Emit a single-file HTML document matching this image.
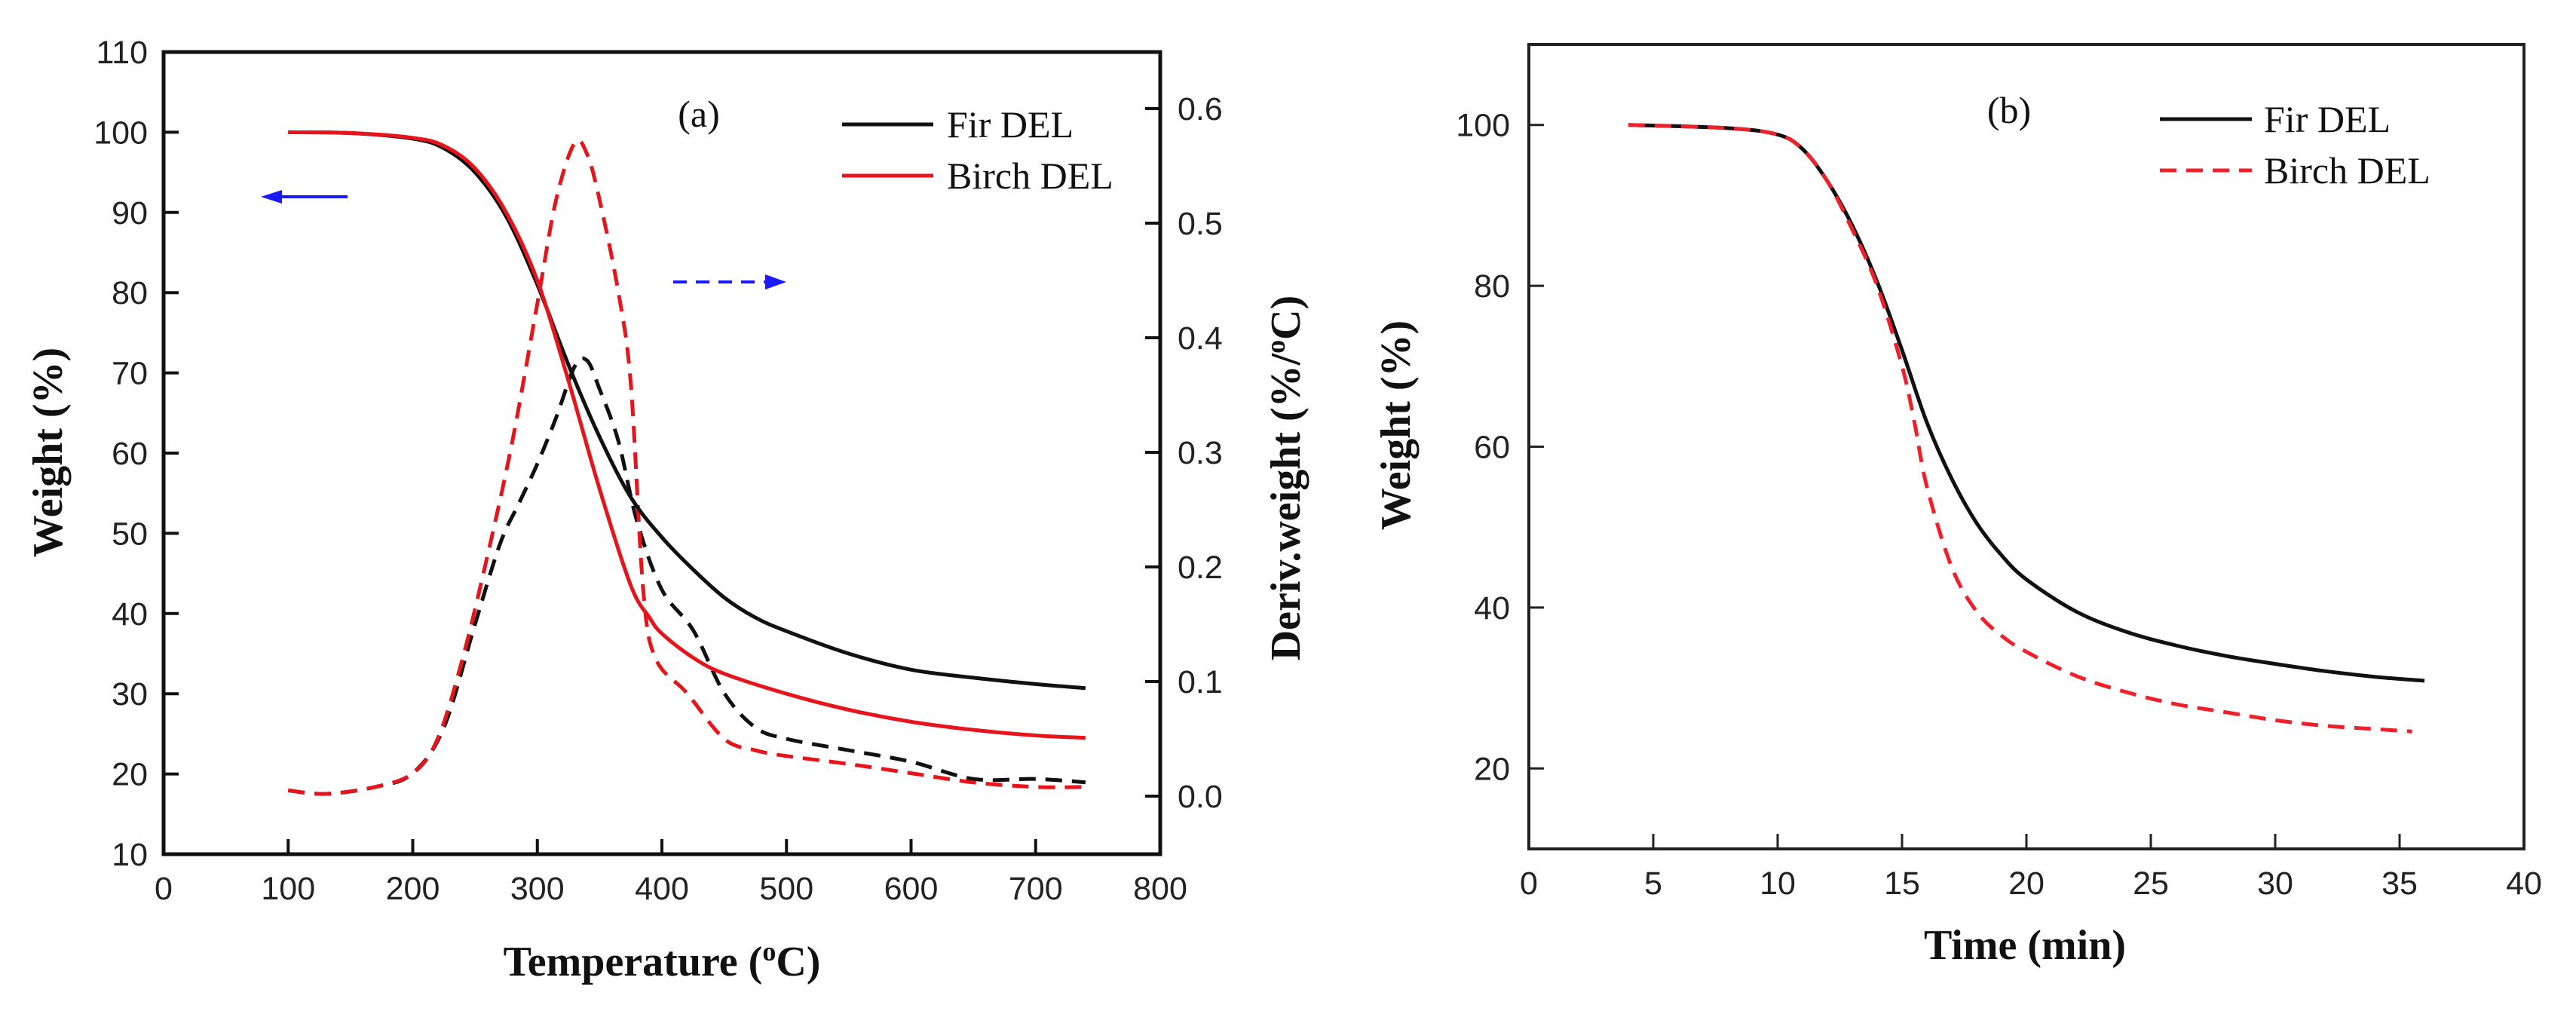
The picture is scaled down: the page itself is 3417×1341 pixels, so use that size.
<!DOCTYPE html>
<html><head><meta charset="utf-8"><style>
html,body{margin:0;padding:0;background:#fff;}
svg{display:block;}
.tk{font-family:"Liberation Sans",Arial,sans-serif;font-size:43px;fill:#222;}
.ti{font-family:"Liberation Serif","Times New Roman",serif;font-size:56px;font-weight:bold;fill:#111;}
.lg{font-family:"Liberation Serif","Times New Roman",serif;font-size:50px;fill:#111;}
</style></head><body>
<svg id="c" width="3417" height="1341" viewBox="0 0 3417 1341" xmlns="http://www.w3.org/2000/svg">
<rect width="3417" height="1341" fill="#fff"/>
<g id="pa"></g>
<g id="pb"></g>
</svg>
<script>
// Panel (a) data
const tempFirT=[100,150,200,225,250,275,300,325,350,375,400,425,450,475,500,550,600,650,700,740];
const weightFirA=[100,99.9,99.2,98,95,89.5,81,71,62,54.5,49.5,45.5,42,39.5,37.8,35,33,32,31.2,30.7];
const tempBirchT=[100,150,200,225,250,275,300,325,350,375,390,400,425,450,500,550,600,650,700,740];
const weightBirchA=[100,99.9,99.3,98.3,95.5,90,81.5,69,55.5,43.5,39.5,37.5,34.5,32.5,30,28,26.5,25.5,24.8,24.5];
const dtgFirT=[100,130,170,200,225,250,270,285,300,315,330,340,350,365,380,400,425,450,475,500,550,600,650,700,740];
const dtgFir=[0.005,0.002,0.008,0.02,0.06,0.15,0.22,0.255,0.29,0.33,0.375,0.38,0.355,0.31,0.24,0.18,0.145,0.09,0.06,0.05,0.04,0.03,0.015,0.015,0.012];
const dtgBirchT=[100,130,170,200,220,240,260,280,300,315,330,340,350,365,375,385,395,420,450,475,500,550,600,650,700,740];
const dtgBirch=[0.005,0.002,0.008,0.02,0.05,0.12,0.21,0.31,0.43,0.52,0.57,0.56,0.52,0.44,0.36,0.18,0.12,0.09,0.05,0.04,0.035,0.028,0.02,0.012,0.008,0.008];
const xTicksA=[0,100,200,300,400,500,600,700,800];
const yTicksA=[10,20,30,40,50,60,70,80,90,100,110];
const y2TicksA=["0.0","0.1","0.2","0.3","0.4","0.5","0.6"];
// Panel (b) data
const timeFir=[4,8,10,11,12,13,14,15,16,17,18,19,20,22,24,26,28,30,32,34,36];
const weightFirB=[100,99.6,98.8,97,93,87.5,80.5,72,63,56,50.5,46.5,43.5,39.5,37,35.3,34,33,32.1,31.4,30.9];
const timeBirch=[4,8,10,11,12,13,14,15,15.5,16,17,18,19,20,22,24,26,28,30,32,34,35.5];
const weightBirchB=[100,99.6,98.8,97,93,87,80,70,63,55,45,39.5,36.5,34.5,31.5,29.5,28,27,26,25.3,24.9,24.6];
const xTicksB=[0,5,10,15,20,25,30,35,40];
const yTicksB=[20,40,60,80,100];

const NS="http://www.w3.org/2000/svg";
function mk(parent,tag,attrs,txt){const e=document.createElementNS(NS,tag);for(const k in attrs)e.setAttribute(k,attrs[k]);if(txt!==undefined)e.textContent=txt;parent.appendChild(e);return e;}
function lin(d0,d1,r0,r1){return v=>r0+(v-d0)/(d1-d0)*(r1-r0);}
function smooth(pts){let d=`M${pts[0][0].toFixed(1)},${pts[0][1].toFixed(1)}`;
 for(let i=0;i<pts.length-1;i++){const p0=pts[Math.max(0,i-1)],p1=pts[i],p2=pts[i+1],p3=pts[Math.min(pts.length-1,i+2)];
 const c1=[p1[0]+(p2[0]-p0[0])/6,p1[1]+(p2[1]-p0[1])/6],c2=[p2[0]-(p3[0]-p1[0])/6,p2[1]-(p3[1]-p1[1])/6];
 d+=` C${c1[0].toFixed(1)},${c1[1].toFixed(1)} ${c2[0].toFixed(1)},${c2[1].toFixed(1)} ${p2[0].toFixed(1)},${p2[1].toFixed(1)}`;}return d;}

// ---- Panel a ----
const A=document.getElementById('pa');
const ax=lin(0,800,217,1539), ay=lin(10,110,1133,69), ay2=lin(0,0.6,1056,144);
let s=mk(A,'rect',{x:217,y:69,width:1322,height:1064,fill:'none',stroke:'#111','stroke-width':5});


xTicksA.forEach(v=>{const x=ax(v);
 let t=mk(A,'line',{x1:x,x2:x,y1:1133,y2:1113,stroke:'#111','stroke-width':4});
 
 
 let l=mk(A,'text',{x:x,y:1193,'text-anchor':'middle',class:'tk'},String(v));
 
 });
yTicksA.forEach(v=>{const y=ay(v);
 let t=mk(A,'line',{x1:217,x2:237,y1:y,y2:y,stroke:'#111','stroke-width':4});
 
 
 let l=mk(A,'text',{x:196,y:y+15,'text-anchor':'end',class:'tk'},String(v));
 
 });
y2TicksA.forEach(v=>{const y=ay2(parseFloat(v));
 let t=mk(A,'line',{x1:1519,x2:1539,y1:y,y2:y,stroke:'#111','stroke-width':4});
 
 
 let l=mk(A,'text',{x:1562,y:y+15,'text-anchor':'start',class:'tk'},v);
 
 });
let tt=mk(A,'text',{x:878,y:1294,'text-anchor':'middle',class:'ti'});


tt.innerHTML='Temperature (<tspan dy="-20" font-size="36">o</tspan><tspan dy="20">C)</tspan>';
tt=mk(A,'text',{x:0,y:0,'text-anchor':'middle',class:'ti',transform:'translate(82,600) rotate(-90)'},'Weight (%)');


tt=mk(A,'text',{x:0,y:0,'text-anchor':'middle',class:'ti',transform:'translate(1724,634) rotate(-90)'});


tt.innerHTML='Deriv.weight (%/<tspan dy="-20" font-size="36">o</tspan><tspan dy="20">C)</tspan>';
tt=mk(A,'text',{x:927,y:168,'text-anchor':'middle',class:'lg'},'(a)');


// arrows
let ar=mk(A,'line',{x1:461,x2:370,y1:261,y2:261,stroke:'#1a1aff','stroke-width':4});


ar=mk(A,'polygon',{points:'346,261 374,252 374,270',fill:'#1a1aff'});


ar=mk(A,'line',{x1:893,x2:1018,y1:374,y2:374,stroke:'#1a1aff','stroke-width':4,'stroke-dasharray':'18 12'});


ar=mk(A,'polygon',{points:'1043,374 1015,364 1015,384',fill:'#1a1aff'});


// series
function seriesA(xs,ys,yf,color,dash,name){const p=mk(A,'path',{d:smooth(xs.map((v,i)=>[ax(v),yf(ys[i])])),fill:'none',stroke:color,'stroke-width':5,'stroke-dasharray':dash||'none','stroke-linejoin':'round'});
 
 }
seriesA(dtgFirT,dtgFir,ay2,'#111','22 13','fir-dtg-line');
seriesA(dtgBirchT,dtgBirch,ay2,'#e8141c','22 13','birch-dtg-line');
seriesA(tempFirT,weightFirA,ay,'#111',null,'fir-tg-line');
seriesA(tempBirchT,weightBirchA,ay,'#e8141c',null,'birch-tg-line');
// legend
let lgA=mk(A,'g',{});


let e=mk(lgA,'line',{x1:1117,x2:1238,y1:165,y2:165,stroke:'#111','stroke-width':5});


e=mk(lgA,'text',{x:1256,y:182,class:'lg'},'Fir DEL');


e=mk(lgA,'line',{x1:1117,x2:1238,y1:233,y2:233,stroke:'#e8141c','stroke-width':5});


e=mk(lgA,'text',{x:1256,y:250,class:'lg'},'Birch DEL');



// ---- Panel b ----
const B=document.getElementById('pb');
const bx=lin(0,40,2028,3348), by=lin(10,110,1126,59);
s=mk(B,'rect',{x:2028,y:59,width:1320,height:1067,fill:'none',stroke:'#222','stroke-width':4});


xTicksB.forEach(v=>{const x=bx(v);
 let t=mk(B,'line',{x1:x,x2:x,y1:1126,y2:1106,stroke:'#222','stroke-width':3});
 
 
 let l=mk(B,'text',{x:x,y:1186,'text-anchor':'middle',class:'tk'},String(v));
 
 });
yTicksB.forEach(v=>{const y=by(v);
 let t=mk(B,'line',{x1:2028,x2:2048,y1:y,y2:y,stroke:'#222','stroke-width':3});
 
 
 let l=mk(B,'text',{x:2003,y:y+15,'text-anchor':'end',class:'tk'},String(v));
 
 });
tt=mk(B,'text',{x:2686,y:1272,'text-anchor':'middle',class:'ti'},'Time (min)');


tt=mk(B,'text',{x:0,y:0,'text-anchor':'middle',class:'ti',transform:'translate(1870,564) rotate(-90)'},'Weight (%)');


tt=mk(B,'text',{x:2665,y:163,'text-anchor':'middle',class:'lg'},'(b)');


function seriesB(xs,ys,color,dash,name){const p=mk(B,'path',{d:smooth(xs.map((v,i)=>[bx(v),by(ys[i])])),fill:'none',stroke:color,'stroke-width':5,'stroke-dasharray':dash||'none','stroke-linejoin':'round'});
 
 }
seriesB(timeFir,weightFirB,'#111',null,'fir-time-line');
seriesB(timeBirch,weightBirchB,'#f0202a','22 13','birch-time-line');
let lgB=mk(B,'g',{});


e=mk(lgB,'line',{x1:2865,x2:2987,y1:158,y2:158,stroke:'#111','stroke-width':5});


e=mk(lgB,'text',{x:3003,y:175,class:'lg'},'Fir DEL');


e=mk(lgB,'line',{x1:2865,x2:2987,y1:226,y2:226,stroke:'#f0202a','stroke-width':5,'stroke-dasharray':'22 13'});


e=mk(lgB,'text',{x:3003,y:243,class:'lg'},'Birch DEL');


</script>
</body></html>
